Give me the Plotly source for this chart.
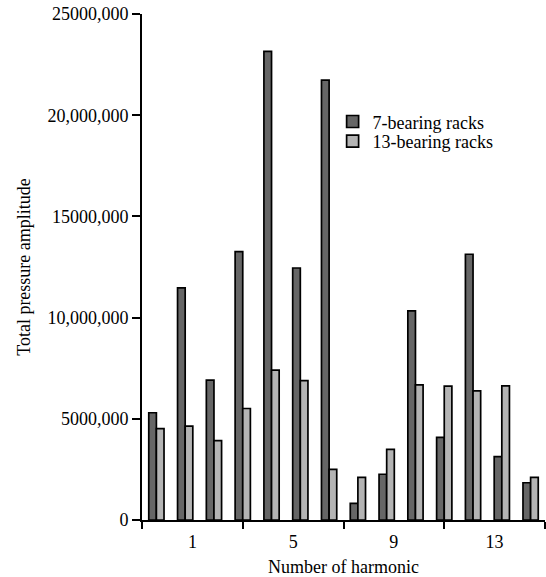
import plotly.graph_objects as go

# Harmonic groups along the category axis (1..14)
groups = list(range(1, 15))

# Total pressure amplitude per harmonic
racks_7 = [5300000, 11470000, 6910000, 13260000, 23150000, 12450000, 21730000,
           820000, 2260000, 10330000, 4080000, 13130000, 3130000, 1840000]
racks_13 = [4510000, 4640000, 3920000, 5510000, 7400000, 6890000, 2500000,
            2110000, 3490000, 6680000, 6610000, 6380000, 6630000, 2110000]

series_names = ["7-bearing racks", "13-bearing racks"]

y_tickvals = [0, 5000000, 10000000, 15000000, 20000000, 25000000]
y_ticktext = ["0", "5000,000", "10,000,000", "15000,000", "20,000,000", "25000,000"]

x_labelvals = [2.25, 5.75, 9.25, 12.75]
x_labeltext = ["1", "5", "9", "13"]

FONT = "Liberation Serif, Times New Roman, serif"

fig = go.Figure()
fig.add_trace(go.Bar(
    x=groups, y=racks_7, name=series_names[0], legend="legend",
    marker=dict(color="#666666", line=dict(color="#000000", width=1.7)),
))
fig.add_trace(go.Bar(
    x=groups, y=racks_13, name=series_names[1], legend="legend2",
    marker=dict(color="#b4b4b4", line=dict(color="#000000", width=1.7)),
))

legend_style = dict(
    xanchor="left", yanchor="middle",
    bgcolor="rgba(0,0,0,0)", itemwidth=30,
    font=dict(family=FONT, size=18),
)

fig.update_layout(
    width=546, height=577,
    margin=dict(l=142, r=1, t=14, b=57),
    paper_bgcolor="white", plot_bgcolor="white",
    barmode="group", bargap=0.47, bargroupgap=0,
    font=dict(family=FONT, size=18, color="#000000"),
    legend=dict(x=0.473, y=0.787, **legend_style),
    legend2=dict(x=0.473, y=0.748, **legend_style),
    showlegend=True,
)

fig.update_xaxes(
    range=[0.5, 14.5],
    showline=True, linecolor="#000000", linewidth=2,
    showgrid=False, zeroline=False,
    tickmode="array", tickvals=x_labelvals, ticktext=x_labeltext,
    ticks="", ticklabelstandoff=4, tickfont=dict(family=FONT, size=18),
    minor=dict(tickmode="linear", tick0=0.5, dtick=3.5, ticks="outside",
               ticklen=7, tickwidth=2, tickcolor="#000000", showgrid=False),
    title=dict(text="Number of harmonic", font=dict(family=FONT, size=18), standoff=12),
)

fig.update_yaxes(
    range=[0, 25000000],
    showline=True, linecolor="#000000", linewidth=2,
    showgrid=False, zeroline=False,
    tickmode="array", tickvals=y_tickvals, ticktext=y_ticktext,
    ticks="outside", ticklen=8, tickwidth=2, tickcolor="#000000",
    tickfont=dict(family=FONT, size=18),
    title=dict(text="Total pressure amplitude", font=dict(family=FONT, size=18), standoff=12),
)

fig.write_html("out.html")
